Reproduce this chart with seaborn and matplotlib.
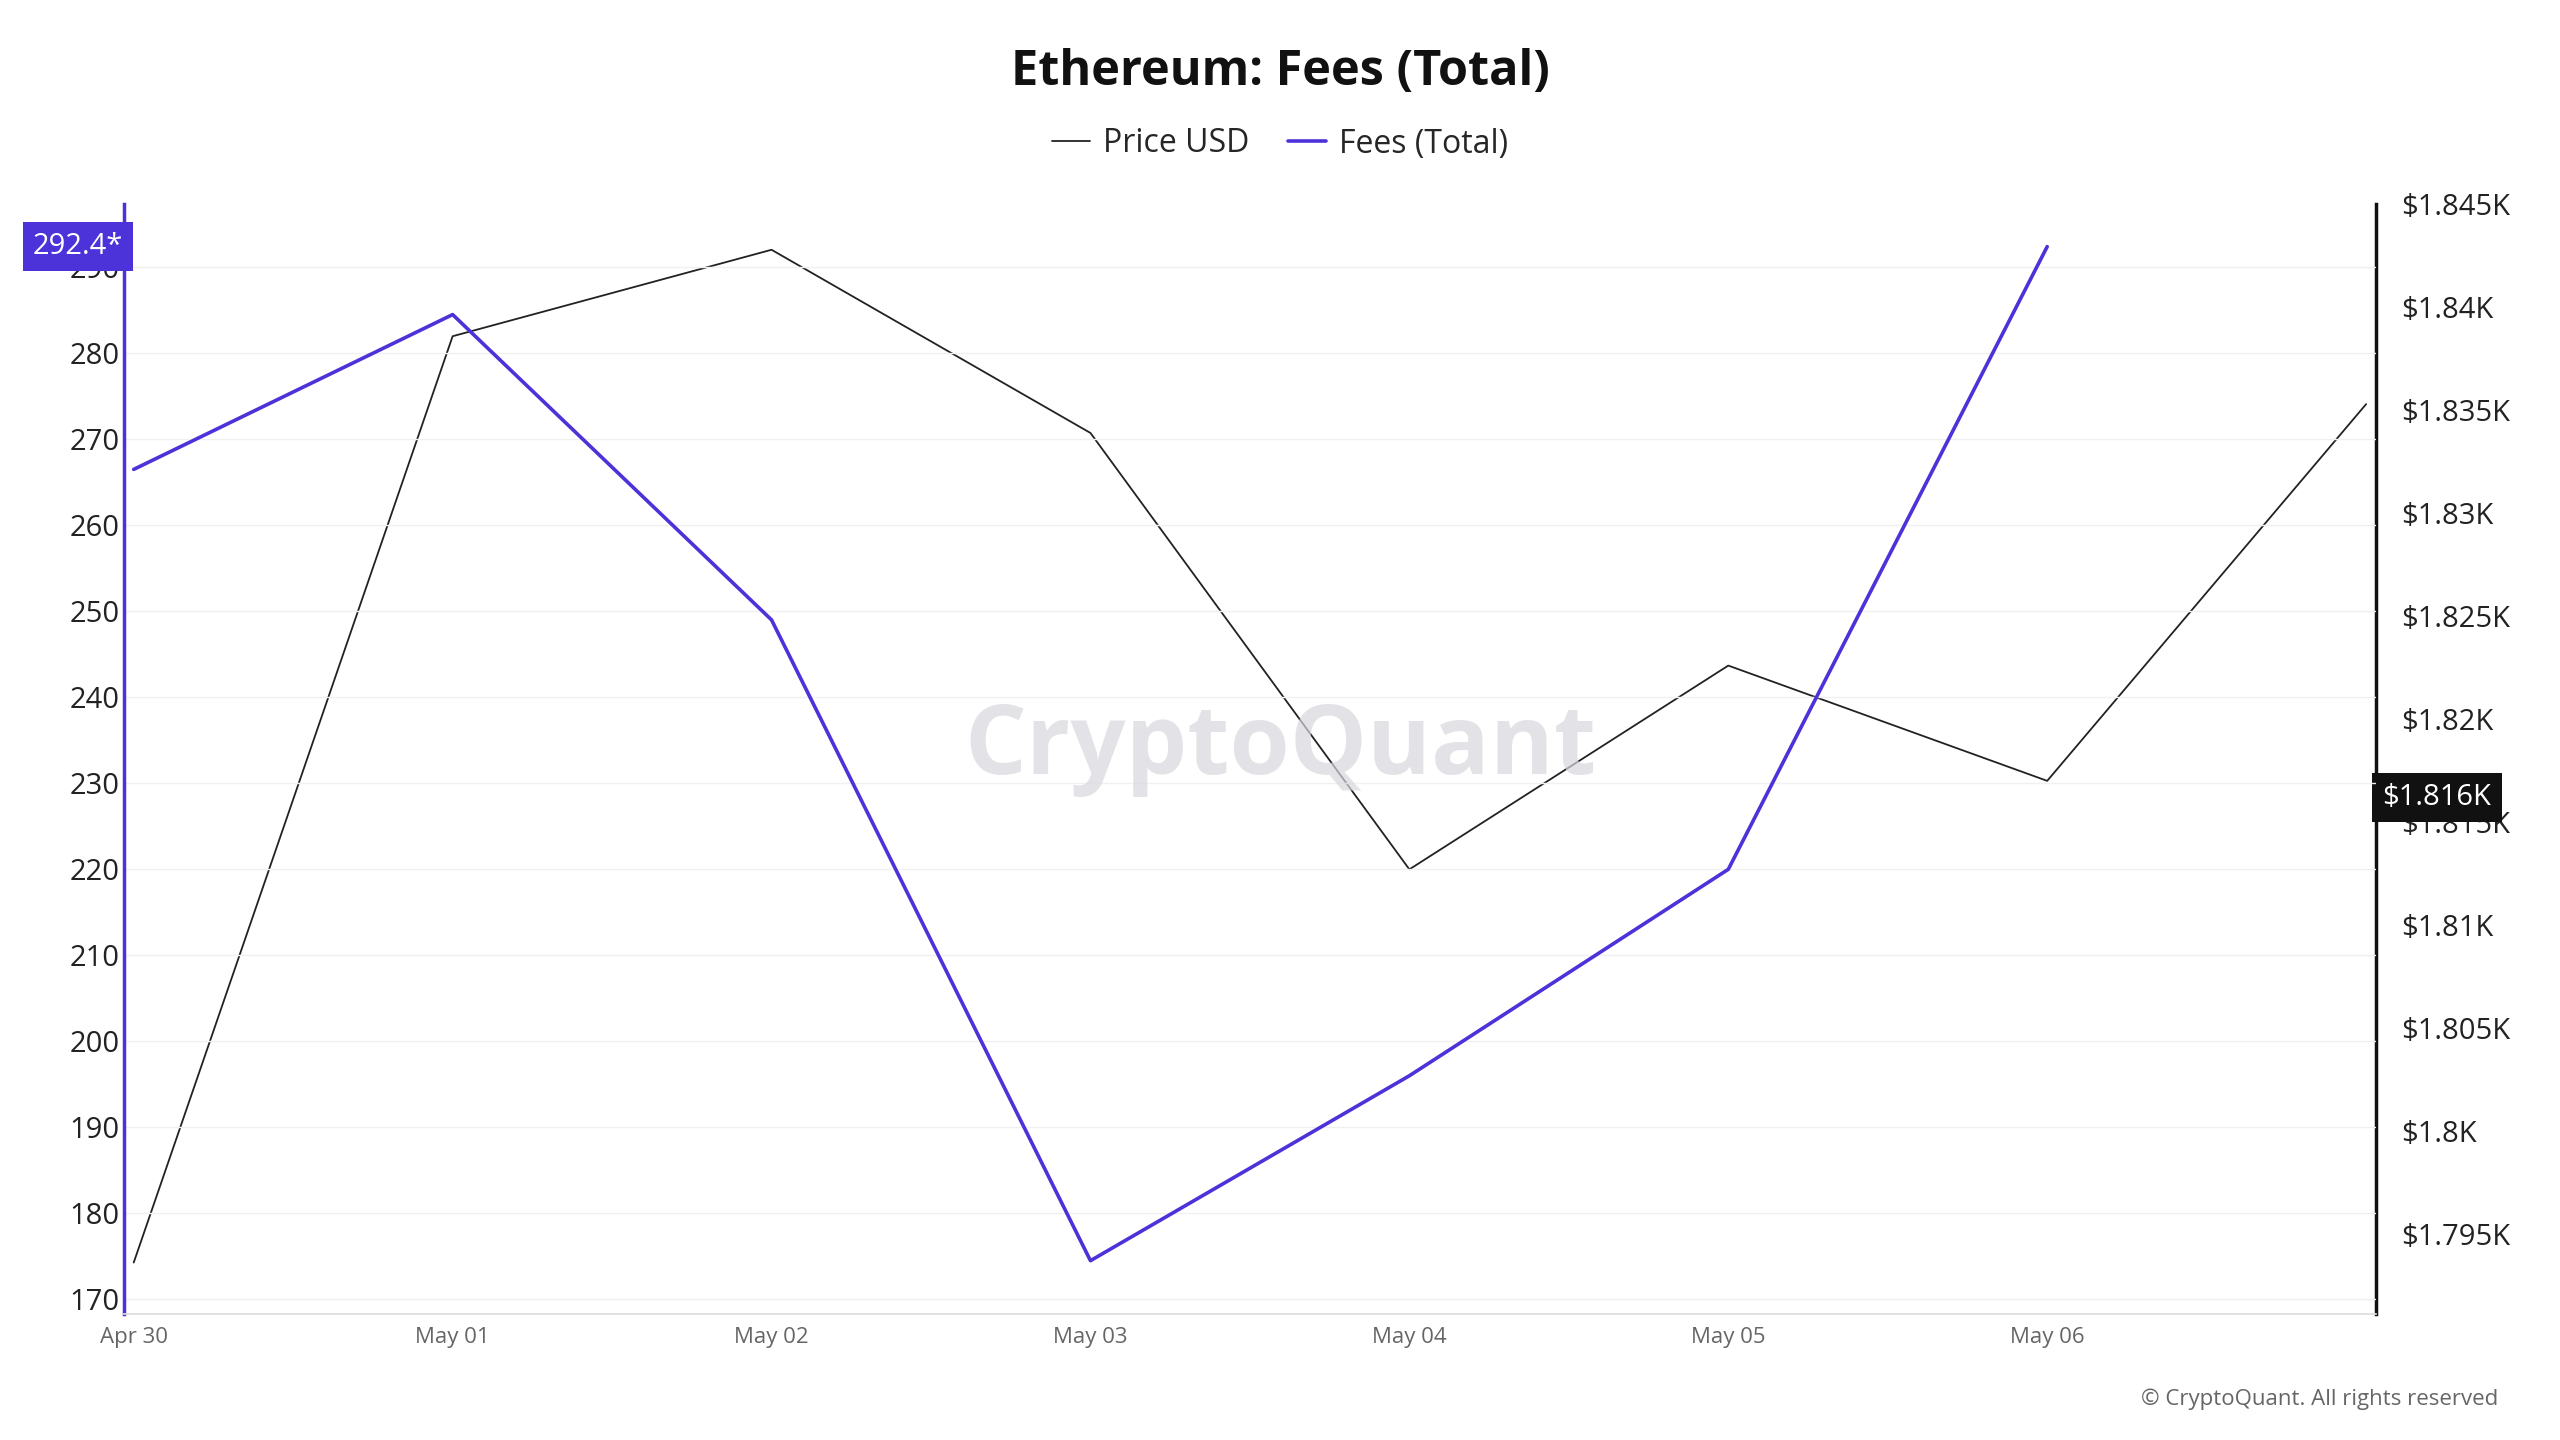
import matplotlib
matplotlib.use("Agg")
import matplotlib.pyplot as plt
import seaborn as sns
import pandas as pd

dates = ["Apr 30", "May 01", "May 02", "May 03", "May 04", "May 05", "May 06"]
fees = [266.5, 284.5, 249.0, 174.5, 196.0, 220.0, 292.4]
price_idx = [0, 1, 2, 3, 4, 5, 6, 7]
price = [1793.6, 1838.6, 1842.8, 1833.9, 1812.7, 1822.6, 1817.0, 1835.3]

sns.set_theme(style="white", font="Open Sans")
fig = plt.figure(figsize=(25.6, 14.4), dpi=100)
ax = fig.add_axes([0.0485, 0.0875, 0.8795, 0.7705])
ax2 = ax.twinx()

dfp = pd.DataFrame({"x": price_idx, "y": price})
dff = pd.DataFrame({"x": list(range(len(fees))), "y": fees})
sns.lineplot(data=dfp, x="x", y="y", ax=ax2, color="#222222", lw=1.3)
sns.lineplot(data=dff, x="x", y="y", ax=ax, color="#4B32D9", lw=2.6)
ax.set_zorder(ax2.get_zorder() + 1); ax.patch.set_visible(False)

ax.set_xlim(-0.03, 7.03)
ax.set_ylim(168.3, 297.3)
ax2.set_ylim(1791.1, 1845)
ax.set_yticks(range(170, 300, 10))
ax.set_xticks(range(len(dates)))
ax.set_xticklabels(dates, fontsize=16, color="#666666")
ax.tick_params(axis="y", labelsize=21, colors="#222222", length=0)
ax.tick_params(axis="x", length=6, color="#cccccc")
ax2.set_yticks([1795, 1800, 1805, 1810, 1815, 1820, 1825, 1830, 1835, 1840, 1845])
ax2.set_yticklabels(["$1.795K", "$1.8K", "$1.805K", "$1.81K", "$1.815K", "$1.82K",
                     "$1.825K", "$1.83K", "$1.835K", "$1.84K", "$1.845K"])
ax2.tick_params(axis="y", labelsize=21, colors="#222222", length=0, pad=18)
ax.grid(axis="y", color="#f0f0f0", lw=1)
for a in (ax, ax2):
    a.set_xlabel(""); a.set_ylabel("")
    a.spines["top"].set_visible(False)
ax.spines["left"].set_color("#4B32D9"); ax.spines["left"].set_linewidth(2.5)
ax.spines["right"].set_visible(False)
ax.spines["bottom"].set_color("#dddddd")
ax2.spines["left"].set_visible(False)
ax2.spines["bottom"].set_visible(False)
ax2.spines["right"].set_color("#111111"); ax2.spines["right"].set_linewidth(2.5)

ax.text(-0.0005, 292.4, "292.4*", transform=ax.get_yaxis_transform(), ha="right", va="center",
        fontsize=21, color="white", bbox=dict(boxstyle="square,pad=0.35", fc="#4B32D9", ec="none"))
ax2.text(1.003, 1816.2, "$1.816K", transform=ax2.get_yaxis_transform(), ha="left", va="center",
         fontsize=21, color="white", bbox=dict(boxstyle="square,pad=0.35", fc="#111111", ec="none"))

fig.text(0.5, 0.95, "Ethereum: Fees (Total)", ha="center", va="center", fontsize=35, fontweight="bold", color="#111111")
fig.legend(handles=[plt.Line2D([], [], color="#222222", lw=1.3), plt.Line2D([], [], color="#4B32D9", lw=2.6)],
           labels=["Price USD", "Fees (Total)"], loc="center", bbox_to_anchor=(0.5, 0.9), ncol=2,
           frameon=False, fontsize=23, handlelength=1.2, columnspacing=1.2, handletextpad=0.4)
fig.text(0.5, 0.48, "CryptoQuant", ha="center", va="center", fontsize=70, color="#d8d8de", alpha=0.7, fontweight="bold")
fig.text(0.976, 0.028, "© CryptoQuant. All rights reserved", ha="right", va="center", fontsize=16, color="#666666")
fig.savefig("out.png", dpi=100)
